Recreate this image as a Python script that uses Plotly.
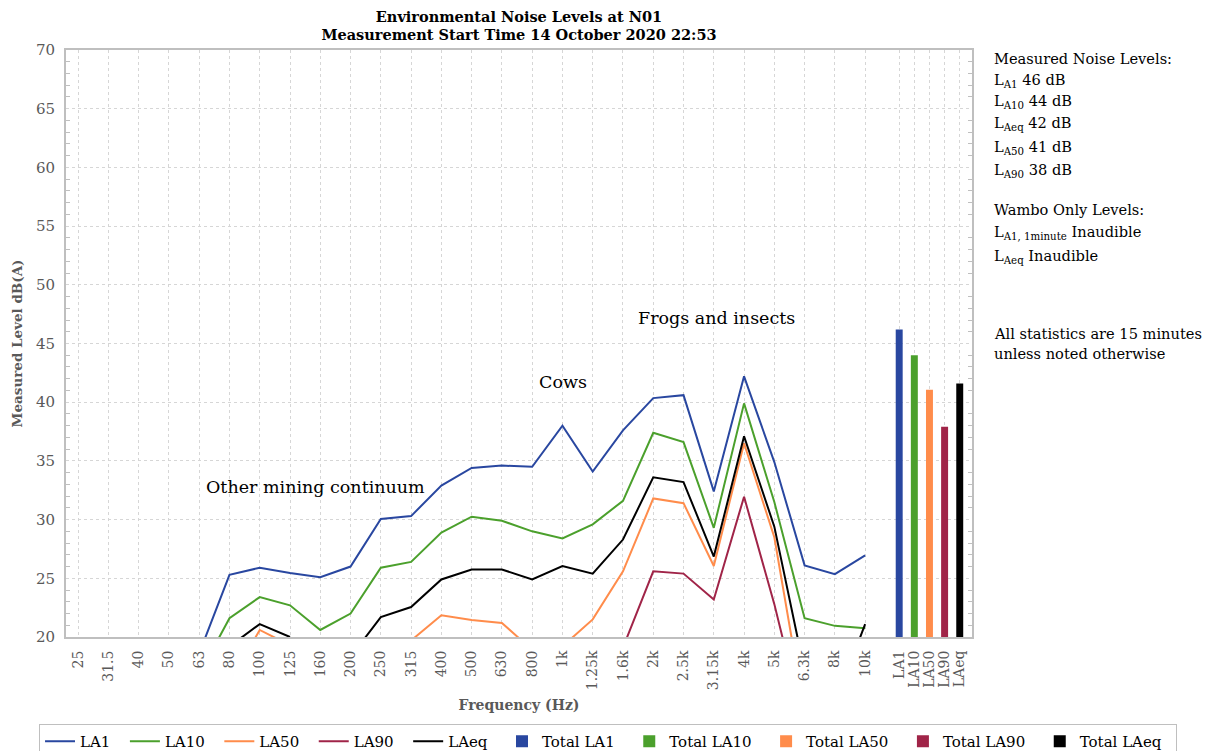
import plotly.graph_objects as go

# ---------------- data ----------------
freq_labels = ["25", "31.5", "40", "50", "63", "80", "100", "125", "160", "200", "250",
               "315", "400", "500", "630", "800", "1k", "1.25k", "1.6k", "2k", "2.5k",
               "3.15k", "4k", "5k", "6.3k", "8k", "10k"]
total_labels = ["LA1", "LA10", "LA50", "LA90", "LAeq"]

LA1 = [None, None, None, None, 18.6, 25.3, 25.9, 25.45, 25.1, 26.0, 30.05,
       30.3, 32.9, 34.4, 34.6, 34.5, 38.0, 34.1, 37.6, 40.35, 40.6,
       32.4, 42.2, 34.9, 26.1, 25.35, 26.95]
LA10 = [None, None, None, None, 16.8, 21.6, 23.4, 22.7, 20.6, 22.0, 25.9,
        26.4, 28.9, 30.25, 29.9, 29.0, 28.4, 29.6, 31.6, 37.4, 36.6,
        29.3, 39.9, 31.5, 21.6, 20.95, 20.75]
LA50 = [None, None, None, None, None, 16.1, 20.6, 19.3, None, None, None,
        19.7, 21.85, 21.45, 21.2, 18.9, 19.2, 21.5, 25.6, 31.8, 31.4,
        26.05, 36.5, 28.5, 13.5, None, None]
LA90 = [None, None, None, None, None, None, None, None, None, None, None,
        None, None, None, None, None, None, None, 19.1, 25.6, 25.4,
        23.2, 31.95, 22.8, 12.3, None, None]
LAeq = [None, None, None, None, None, 19.2, 21.1, 20.0, None, 18.3, 21.7,
        22.55, 24.9, 25.75, 25.75, 24.9, 26.05, 25.4, 28.3, 33.6, 33.2,
        26.85, 37.1, 29.4, 17.1, 14.3, 21.1]
totals = [46.2, 44.0, 41.05, 37.9, 41.6]

series_names = ["LA1", "LA10", "LA50", "LA90", "LAeq"]
series_values = [LA1, LA10, LA50, LA90, LAeq]
colors = ["#2947A0", "#4BA02C", "#FF8C4B", "#A02448", "#000000"]

# ---------------- layout helpers ----------------
FONT = "DejaVu Serif"
GREY = "#595959"
PAD = "\u00a0\u00a0"  # extra spacing after legend text, as in the reference
freq_x = list(range(len(freq_labels)))
total_x = [len(freq_labels) + 0.125 + 0.5 * k for k in range(len(total_labels))]

fig = go.Figure()
for name, vals, col in zip(series_names, series_values, colors):
    fig.add_trace(go.Scatter(x=freq_x, y=vals, mode="lines", name=name + PAD,
                             line=dict(color=col, width=2)))
for k, (lab, val, col) in enumerate(zip(total_labels, totals, colors)):
    fig.add_trace(go.Bar(x=[total_x[k]], y=[val], name="Total " + lab + PAD,
                         marker=dict(color=col, line=dict(width=0)), width=0.23))

fig.update_layout(
    width=1215, height=751,
    paper_bgcolor="white", plot_bgcolor="white",
    margin=dict(l=58, r=251, t=42, b=122, autoexpand=False),
    font=dict(family=FONT, size=14, color=GREY),
    title=dict(text="<b>Environmental Noise Levels at N01<br>Measurement Start Time 14 October 2020 22:53</b>",
               x=0.5, xref="paper", xanchor="center", y=1 - 13.5 / 751, yref="container", yanchor="middle",
               font=dict(family=FONT, size=14.5, color="black")),
    showlegend=True,
    legend=dict(orientation="h", x=1.2263, xanchor="right", y=-0.1482, yanchor="top",
                font=dict(family=FONT, size=15, color="black"),
                bordercolor="#BFBFBF", borderwidth=1, traceorder="normal",
                itemwidth=30),
    barmode="overlay",
)

fig.update_xaxes(
    range=[-0.4, 29.53], tickmode="array", automargin=False,
    tickvals=freq_x + total_x, ticktext=freq_labels + total_labels,
    tickangle=-90, tickfont=dict(family=FONT, size=14, color=GREY),
    ticklabelstandoff=6,
    showgrid=True, gridcolor="#D6D6D6", griddash="dot", gridwidth=1,
    showline=True, linecolor="#BFBFBF", linewidth=2, mirror=True,
    ticks="", zeroline=False,
    title=dict(text="<b>Frequency (Hz)</b>", font=dict(family=FONT, size=14, color=GREY), standoff=11),
)
fig.update_yaxes(
    range=[20, 70], dtick=5, tick0=20, automargin=False,
    tickfont=dict(family=FONT, size=15, color=GREY),
    ticklabelstandoff=6,
    showgrid=True, gridcolor="#D6D6D6", griddash="dot", gridwidth=1,
    showline=True, linecolor="#BFBFBF", linewidth=2, mirror="allticks",
    ticks="inside", ticklen=0, zeroline=False,
    minor=dict(dtick=1, ticks="inside", ticklen=4, tickcolor="#BFBFBF", showgrid=False),
    title=dict(text="<b>Measured Level dB(A)</b>", font=dict(family=FONT, size=13.5, color=GREY), standoff=10),
)

# in-plot labels
for txt, xv, yv in [("Other mining continuum", 4.17, 32.8),
                    ("Cows", 15.15, 41.7),
                    ("Frogs and insects", 18.42, 47.2)]:
    fig.add_annotation(text=txt, x=xv, y=yv, xref="x", yref="y", xanchor="left", yanchor="middle",
                       showarrow=False, font=dict(family=FONT, size=17.5, color="black"))

# right-side notes
notes = [
    ("Measured Noise Levels:", 58),
    ("L<sub>A1</sub> 46 dB", 80),
    ("L<sub>A10</sub> 44 dB", 102),
    ("L<sub>Aeq</sub> 42 dB", 124),
    ("L<sub>A50</sub> 41 dB", 147),
    ("L<sub>A90</sub> 38 dB", 170),
    ("Wambo Only Levels:", 209),
    ("L<sub>A1, 1minute</sub> Inaudible", 232),
    ("L<sub>Aeq</sub> Inaudible", 256),
    ("All statistics are 15 minutes", 333),
    ("unless noted otherwise", 353),
]
for txt, ypx in notes:
    fig.add_annotation(text=txt, x=(992 - 66) / 906, y=(637 - ypx) / 587, xref="paper", yref="paper",
                       xanchor="left", yanchor="middle", showarrow=False,
                       font=dict(family=FONT, size=14.6, color="black"))

fig.write_html("out.html")
